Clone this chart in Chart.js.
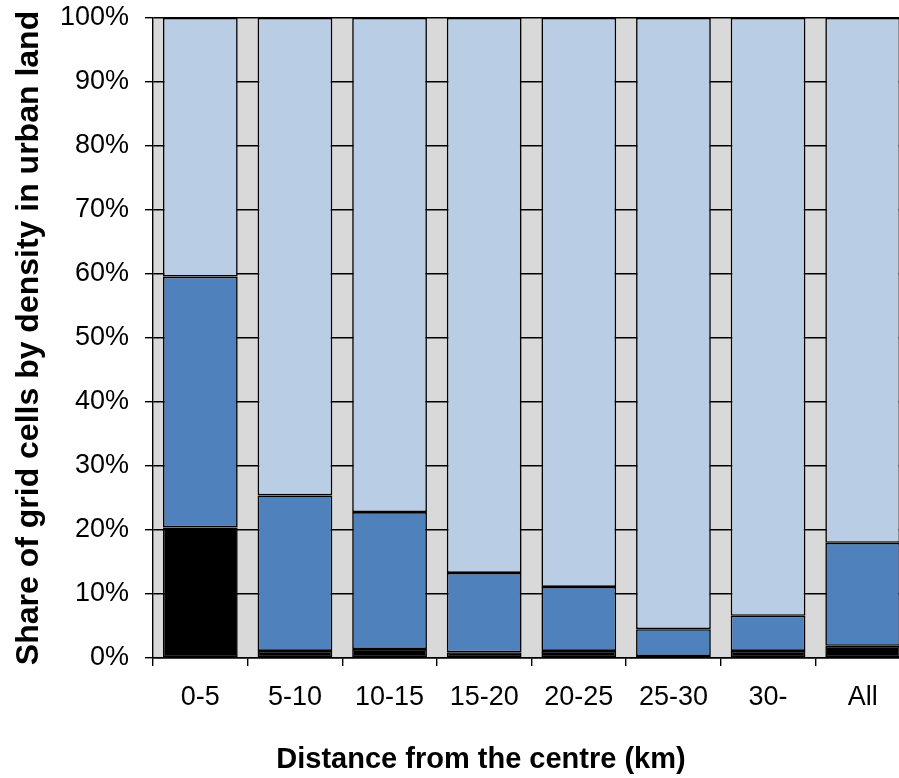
<!DOCTYPE html>
<html>
<head>
<meta charset="utf-8">
<script src="https://cdn.jsdelivr.net/npm/chart.js@4/dist/chart.umd.min.js"></script>
<style>
  html, body { margin: 0; padding: 0; background: #ffffff; overflow: hidden; width: 899px; height: 778px; }
  #wrap { position: relative; width: 920px; height: 778px; }
</style>
</head>
<body>
<div id="wrap"><canvas id="c" width="920" height="778"></canvas></div>
<script>
const categories = ['0-5', '5-10', '10-15', '15-20', '20-25', '25-30', '30-', 'All'];
const highDensity = [20.4, 1.1, 1.4, 0.9, 1.1, 0.3, 1.1, 1.9];
const mediumDensity = [39.2, 24.3, 21.4, 12.4, 10.0, 4.2, 5.5, 16.1];
const lowDensity = [40.4, 74.6, 77.2, 86.7, 88.9, 95.5, 93.4, 82.0];
const yTickValues = [0, 10, 20, 30, 40, 50, 60, 70, 80, 90, 100];
const xTitle = 'Distance from the centre (km)';
const yTitle = 'Share of grid cells by density in urban land';

const bgPlugin = {
  id: 'bg',
  beforeDraw(chart) {
    const {ctx, chartArea: a} = chart;
    ctx.save();
    ctx.fillStyle = '#D9D9D9';
    ctx.fillRect(a.left, a.top, a.right - a.left, a.bottom - a.top);
    ctx.restore();
  }
};
const xTitlePlugin = {
  id: 'xTitle',
  afterDraw(chart) {
    const ctx = chart.ctx;
    ctx.save();
    ctx.font = 'bold 29px "Liberation Sans", Arial, sans-serif';
    ctx.fillStyle = '#000';
    ctx.textAlign = 'center';
    ctx.textBaseline = 'alphabetic';
    ctx.fillText(xTitle, 481, 768);
    ctx.restore();
  }
};

const common = { borderColor: '#000000', borderWidth: 1.6, borderSkipped: false, barPercentage: 0.79, categoryPercentage: 1.0 };

new Chart(document.getElementById('c'), {
  type: 'bar',
  data: {
    labels: categories,
    datasets: [
      Object.assign({ label: 'High', data: highDensity, backgroundColor: '#000000' }, common),
      Object.assign({ label: 'Medium', data: mediumDensity, backgroundColor: '#4F81BD' }, common),
      Object.assign({ label: 'Low', data: lowDensity, backgroundColor: '#B9CDE5' }, common)
    ]
  },
  options: {
    responsive: false,
    animation: false,
    devicePixelRatio: 1,
    layout: { padding: { top: 18, right: 10, left: 0, bottom: 0 } },
    plugins: { legend: { display: false }, tooltip: { enabled: false } },
    scales: {
      x: {
        stacked: true,
        afterFit(s) { s.height = 120; s.paddingLeft = 0; s.paddingRight = 0; },
        grid: { display: true, drawOnChartArea: false, drawTicks: true, tickLength: 8, color: '#000', lineWidth: 1.4, offset: true },
        border: { display: true, color: '#000', width: 1.4 },
        ticks: { color: '#000', font: { family: '"Liberation Sans", Arial, sans-serif', size: 27 }, padding: 15, maxRotation: 0, autoSkip: false }
      },
      y: {
        stacked: true,
        min: 0, max: 100,
        afterFit(s) { s.width = 153; s.paddingTop = 0; s.paddingBottom = 0; },
        afterBuildTicks(s) { s.ticks = yTickValues.map(v => ({ value: v })); },
        grid: { display: true, drawOnChartArea: true, drawTicks: true, tickLength: 8, color: '#000', lineWidth: 1.4 },
        border: { display: true, color: '#000', width: 1.4 },
        ticks: { color: '#000', font: { family: '"Liberation Sans", Arial, sans-serif', size: 27 }, padding: 16, callback: v => v + '%' },
        title: { display: true, text: yTitle, color: '#000', font: { family: '"Liberation Sans", Arial, sans-serif', size: 32, weight: 'bold' }, padding: { top: 10, bottom: 0 } }
      }
    }
  },
  plugins: [bgPlugin, xTitlePlugin]
});
</script>
</body>
</html>
